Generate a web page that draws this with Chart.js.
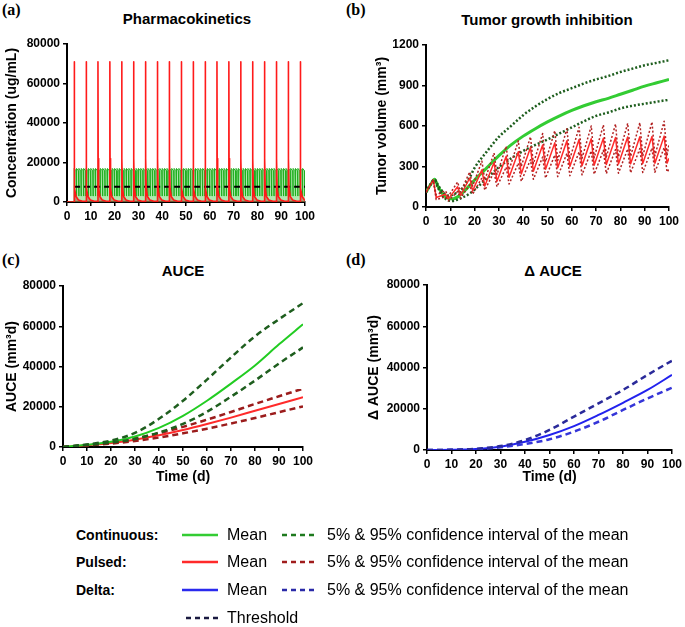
<!DOCTYPE html>
<html><head><meta charset="utf-8">
<script src="https://cdn.jsdelivr.net/npm/chart.js@4.4.1/dist/chart.umd.min.js"></script>
<style>
body{margin:0;width:685px;height:627px;position:relative;background:#fff;font-family:Arial,"Liberation Sans",sans-serif;overflow:hidden;color:#000}
canvas{position:absolute}
.pl{position:absolute;font-family:"Times New Roman","Liberation Serif",serif;font-weight:bold;font-size:16px;line-height:1}
.tt{position:absolute;font-weight:bold;font-size:15px;line-height:1;transform:translate(-50%,-50%);white-space:nowrap}
.lg{position:absolute;font-size:16px;line-height:1;transform:translateY(-50%);white-space:nowrap}
.lb{font-weight:bold;font-size:14px}
svg.s{position:absolute;overflow:visible}
</style></head><body>

<div class="pl" style="left:2px;top:2px">(a)</div>
<div class="pl" style="left:346px;top:2px">(b)</div>
<div class="pl" style="left:2px;top:252px">(c)</div>
<div class="pl" style="left:346px;top:252px">(d)</div>
<div class="tt" style="left:187px;top:18px">Pharmacokinetics</div>
<div class="tt" style="left:547px;top:19px">Tumor growth inhibition</div>
<div class="tt" style="left:183px;top:270px">AUCE</div>
<div class="tt" style="left:553px;top:270px">Δ AUCE</div>

<canvas id="ca" width="340" height="240" style="left:0;top:0;width:340px;height:240px"></canvas>
<canvas id="cb" width="345" height="240" style="left:340px;top:0;width:345px;height:240px"></canvas>
<canvas id="cc" width="340" height="245" style="left:0;top:250px;width:340px;height:245px"></canvas>
<canvas id="cd" width="345" height="245" style="left:340px;top:250px;width:345px;height:245px"></canvas>

<div class="lg lb" style="left:76px;top:535px">Continuous:</div>
<div class="lg lb" style="left:76px;top:562px">Pulsed:</div>
<div class="lg lb" style="left:76px;top:590px">Delta:</div>
<svg class="s" style="left:0;top:0" width="685" height="627">
  <line x1="182" y1="535" x2="218" y2="535" stroke="#33cc33" stroke-width="2.5"/>
  <line x1="282" y1="535" x2="316" y2="535" stroke="#1e7a1e" stroke-width="2.5" stroke-dasharray="5,4"/>
  <line x1="182" y1="562" x2="218" y2="562" stroke="#ff2a2a" stroke-width="2.5"/>
  <line x1="282" y1="562" x2="316" y2="562" stroke="#a01c1c" stroke-width="2.5" stroke-dasharray="5,4"/>
  <line x1="182" y1="590" x2="218" y2="590" stroke="#2a2aee" stroke-width="2.5"/>
  <line x1="282" y1="590" x2="316" y2="590" stroke="#2a2aa8" stroke-width="2.5" stroke-dasharray="5,4"/>
  <line x1="186" y1="618" x2="220" y2="618" stroke="#1a1a40" stroke-width="2.5" stroke-dasharray="5,4"/>
</svg>
<div class="lg" style="left:227px;top:535px">Mean</div>
<div class="lg" style="left:327px;top:535px">5% &amp; 95% confidence interval of the mean</div>
<div class="lg" style="left:227px;top:562px">Mean</div>
<div class="lg" style="left:327px;top:562px">5% &amp; 95% confidence interval of the mean</div>
<div class="lg" style="left:227px;top:590px">Mean</div>
<div class="lg" style="left:327px;top:590px">5% &amp; 95% confidence interval of the mean</div>
<div class="lg" style="left:227px;top:618px">Threshold</div>

<script>
// ---------- Panel (a): Pharmacokinetics ----------
const pkPulsedDoseDays = [3,8,13,18,23,28,33,38,43,48,53,58,63,68,73,78,83,88,93,98];
const pkPulsedOffsets  = [0, 0.02, 0.1, 0.3, 0.8, 1.8, 3.5, 4.98];
const pkPulsedConc     = [300, 71000, 22000, 7000, 2800, 1000, 400, 300];
const pkContDoseDays   = [3,4,5,6,7,8,9,10,11,12,13,14,15,16,17,18,19,20,21,22,23,24,25,26,27,28,29,30,31,32,33,34,35,36,37,38,39,40,41,42,43,44,45,46,47,48,49,50,51,52,53,54,55,56,57,58,59,60,61,62,63,64,65,66,67,68,69,70,71,72,73,74,75,76,77,78,79,80,81,82,83,84,85,86,87,88,89,90,91,92,93,94,95,96,97,98,99];
const pkContOffsets    = [0, 0.02, 0.8, 0.98];
const pkContConc       = [3000, 17000, 15800, 3000];
const pkThresholdDays  = [3, 100];
const pkThresholdConc  = [7700, 7700];

// ---------- Panel (b): Tumor growth inhibition ----------
const tgiContDays = [0,2,3.5,5,7,9,11,13,15,18,20,25,30,35,40,45,50,55,60,65,70,75,80,85,90,95,100];
const tgiContMean = [110,170,205,150,95,65,60,75,105,160,200,290,380,460,525,580,630,675,715,750,780,805,835,865,895,920,945];
const tgiContHi   = [110,170,205,160,110,85,90,110,140,220,290,410,520,600,680,745,800,845,880,915,945,970,1000,1025,1050,1068,1087];
const tgiContLo   = [110,170,200,140,80,50,45,55,70,100,130,210,295,360,415,460,500,545,590,635,675,700,730,750,765,780,795];
const tgiPulsedStartDays = [0, 2];
const tgiPulsedStartVals = [110, 170];
const tgiPulsedPeakDays  = [3,8,13,18,23,28,33,38,43,48,53,58,63,68,73,78,83,88,93,98];
const tgiPulsedTroughLag = 1.2;
const tgiPulsedMeanPeak   = [200,95,150,215,275,330,375,410,440,460,475,490,500,505,510,515,518,520,522,525];
const tgiPulsedMeanTrough = [70,60,85,120,155,190,220,245,265,280,290,300,305,310,315,318,320,322,324,325];
const tgiPulsedHiPeak     = [200,120,185,260,340,400,450,490,520,545,565,580,590,600,608,615,620,625,630,635];
const tgiPulsedHiTrough   = [90,80,110,155,200,240,275,300,320,335,345,355,360,365,370,372,375,377,379,380];
const tgiPulsedLoPeak     = [200,75,115,165,215,260,295,325,350,370,385,398,408,415,420,425,430,433,436,440];
const tgiPulsedLoTrough   = [55,45,65,95,125,150,170,190,205,215,225,232,238,243,247,250,253,255,257,259];
const tgiPulsedEndDay = 100;
const tgiPulsedEnd = {mean: 360, hi: 465, lo: 280};

// ---------- Panels (c),(d): AUCE ----------
const aucDays       = [0,10,20,30,40,50,60,70,80,90,100];
const auceContMean  = [0,1100,2600,5200,9500,15500,23000,31500,40500,51000,61000];
const auceContHi    = [0,1300,3200,7000,14000,23000,33500,44500,55000,63500,71500];
const auceContLo    = [0,1000,2200,4000,7200,11500,17500,25000,33000,41500,49500];
const aucePulsMean  = [0,900,2000,3600,5800,8400,11400,14600,18000,21400,24700];
const aucePulsHi    = [0,1000,2400,4300,6900,10000,13600,17400,21400,25200,29000];
const aucePulsLo    = [0,800,1700,3000,4700,6800,9100,11700,14400,17300,20200];
const dAuceMean     = [0,100,500,1600,4000,7300,11600,17000,22900,29100,36400];
const dAuceHi       = [0,100,600,1900,4800,9700,16200,22600,29100,36400,43300];
const dAuceLo       = [0,100,400,1300,2900,5200,8900,13700,19400,25000,30200];

// ---------- build helpers ----------
const xy = (xs, ys) => xs.map((x, i) => ({x, y: ys[i]}));
function pkSeries(doses, offs, conc, start) {
  const pts = start.slice();
  doses.forEach(d => offs.forEach((o, i) => pts.push({x: d + o, y: conc[i]})));
  return pts;
}
function sawtooth(peaks, troughs, end) {
  const pts = xy(tgiPulsedStartDays, tgiPulsedStartVals);
  tgiPulsedPeakDays.forEach((d, i) => {
    pts.push({x: d, y: peaks[i]});
    pts.push({x: d + tgiPulsedTroughLag, y: troughs[i]});
  });
  pts.push({x: tgiPulsedEndDay, y: end});
  return pts;
}

const tickFont = {family: 'Arial, "Liberation Sans", sans-serif', size: 12, weight: 'bold'};
const titleFont = {family: 'Arial, "Liberation Sans", sans-serif', size: 14, weight: 'bold'};

function mk(id, datasets, o) {
  return new Chart(document.getElementById(id), {
    type: 'line',
    data: {datasets},
    options: {
      responsive: false, animation: false, devicePixelRatio: 1,
      layout: {padding: o.pad},
      plugins: {legend: {display: false}, tooltip: {enabled: false}, title: {display: false}},
      elements: {point: {radius: 0}, line: {borderJoinStyle: 'round', tension: 0}},
      scales: {
        x: {
          type: 'linear', min: 0, max: 100,
          ticks: {stepSize: 10, autoSkip: false, maxRotation: 0, minRotation: 0, font: tickFont, color: '#000', padding: 3},
          grid: {drawOnChartArea: false, drawTicks: true, tickLength: 4, color: '#000', lineWidth: 1.5},
          border: {display: true, color: '#000', width: 2},
          title: o.xTitle ? {display: true, text: o.xTitle, font: titleFont, color: '#000', padding: {top: 2, bottom: 4}} : {display: false},
          afterFit: s => { s.height = o.xh; }
        },
        y: {
          type: 'linear', min: 0, max: o.ymax,
          ticks: {stepSize: o.ystep, font: tickFont, color: '#000', padding: 3, callback: v => String(v)},
          grid: {drawOnChartArea: false, drawTicks: true, tickLength: 4, color: '#000', lineWidth: 1.5},
          border: {display: true, color: '#000', width: 2},
          title: {display: true, text: o.yTitle, font: titleFont, color: '#000', padding: {top: 4, bottom: 4}},
          afterFit: s => { s.width = o.yw; }
        }
      }
    }
  });
}

// Panel (a)
mk('ca', [
  {data: pkSeries(pkPulsedDoseDays, pkPulsedOffsets, pkPulsedConc, [{x:0,y:0},{x:2.98,y:0}]), borderColor: '#ff1a1a', borderWidth: 1.6, fill: 'origin', backgroundColor: 'rgba(180,60,40,0.45)'},
  {data: xy(pkThresholdDays, pkThresholdConc), borderColor: '#000', borderWidth: 2, borderDash: [6, 4], fill: false},
  {data: pkSeries(pkContDoseDays, pkContOffsets, pkContConc, [{x:0,y:0},{x:2.98,y:0}]), borderColor: '#1fae1f', borderWidth: 1, fill: 'origin', backgroundColor: 'rgba(110,215,110,0.55)'}
], {pad: {left: 0, top: 44, right: 35, bottom: 8}, xh: 30, yw: 67, ymax: 80000, ystep: 20000, yTitle: 'Concentration (ug/mL)'});

// Panel (b)
const dotted = [2, 2];
mk('cb', [
  {data: sawtooth(tgiPulsedHiPeak, tgiPulsedHiTrough, tgiPulsedEnd.hi), borderColor: '#b22222', borderWidth: 1.5, borderDash: dotted},
  {data: sawtooth(tgiPulsedLoPeak, tgiPulsedLoTrough, tgiPulsedEnd.lo), borderColor: '#b22222', borderWidth: 1.5, borderDash: dotted},
  {data: sawtooth(tgiPulsedMeanPeak, tgiPulsedMeanTrough, tgiPulsedEnd.mean), borderColor: '#ff2a2a', borderWidth: 1.5},
  {data: xy(tgiContDays, tgiContHi), borderColor: '#1e5e1e', borderWidth: 2.5, borderDash: dotted, cubicInterpolationMode: 'monotone'},
  {data: xy(tgiContDays, tgiContLo), borderColor: '#1e5e1e', borderWidth: 2.5, borderDash: dotted, cubicInterpolationMode: 'monotone'},
  {data: xy(tgiContDays, tgiContMean), borderColor: '#33cc33', borderWidth: 3, cubicInterpolationMode: 'monotone'}
], {pad: {left: 30, top: 45, right: 16, bottom: 5}, xh: 28, yw: 56, ymax: 1200, ystep: 300, yTitle: 'Tumor volume (mm³)'});

// Panel (c)
const dash = [6, 4];
mk('cc', [
  {data: xy(aucDays, auceContHi), borderColor: '#1e5e1e', borderWidth: 2.5, borderDash: dash, cubicInterpolationMode: 'monotone'},
  {data: xy(aucDays, auceContLo), borderColor: '#1e5e1e', borderWidth: 2.5, borderDash: dash, cubicInterpolationMode: 'monotone'},
  {data: xy(aucDays, auceContMean), borderColor: '#22cc22', borderWidth: 2, cubicInterpolationMode: 'monotone'},
  {data: xy(aucDays, aucePulsHi), borderColor: '#9b1c1c', borderWidth: 2.5, borderDash: dash, cubicInterpolationMode: 'monotone'},
  {data: xy(aucDays, aucePulsLo), borderColor: '#9b1c1c', borderWidth: 2.5, borderDash: dash, cubicInterpolationMode: 'monotone'},
  {data: xy(aucDays, aucePulsMean), borderColor: '#ff2a2a', borderWidth: 2, cubicInterpolationMode: 'monotone'}
], {pad: {left: 0, top: 36, right: 37, bottom: 5}, xh: 43, yw: 63, ymax: 80000, ystep: 20000, yTitle: 'AUCE (mm³d)', xTitle: 'Time (d)'});

// Panel (d)
mk('cd', [
  {data: xy(aucDays, dAuceHi), borderColor: '#2a2a9a', borderWidth: 2.5, borderDash: dash, cubicInterpolationMode: 'monotone'},
  {data: xy(aucDays, dAuceLo), borderColor: '#3535d8', borderWidth: 2.5, borderDash: dash, cubicInterpolationMode: 'monotone'},
  {data: xy(aucDays, dAuceMean), borderColor: '#2222ee', borderWidth: 2, cubicInterpolationMode: 'monotone'}
], {pad: {left: 22, top: 35, right: 12, bottom: 5}, xh: 40, yw: 65, ymax: 80000, ystep: 20000, yTitle: 'Δ AUCE (mm³d)', xTitle: 'Time (d)'});
</script>
</body></html>
